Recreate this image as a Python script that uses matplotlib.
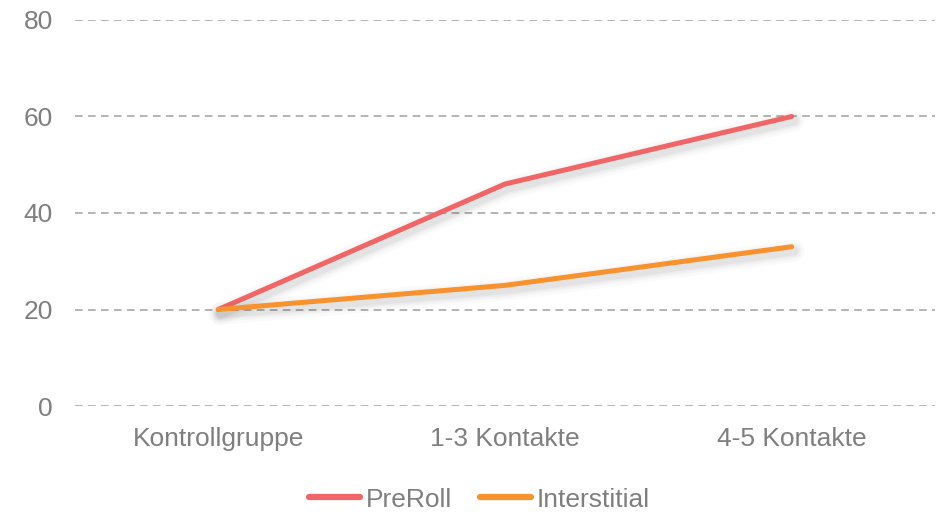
import matplotlib.pyplot as plt
import matplotlib.patheffects as pe

plt.rcParams['font.family'] = ['Liberation Sans', 'DejaVu Sans']

kategorien = ['Kontrollgruppe', '1-3 Kontakte', '4-5 Kontakte']
preroll = [20, 46, 60]
interstitial = [20, 25, 33]
farben = {'PreRoll': '#F06566', 'Interstitial': '#F7922F'}

fig = plt.figure(figsize=(9.43, 5.12), dpi=100)
ax = fig.add_axes([0.0795, 0.207, 0.912, 0.754])

# weicher schatten unter den linien
schatten = [pe.SimpleLineShadow(offset=(1.5, -3), shadow_color='#000000', alpha=a, linewidth=w)
            for a, w in [(0.02, 16), (0.025, 12), (0.03, 9), (0.035, 6.5)]] + [pe.Normal()]

x = range(len(kategorien))
ax.plot(x, preroll, color=farben['PreRoll'], lw=3.6, solid_capstyle='round',
        label='PreRoll', path_effects=schatten, zorder=3)
ax.plot(x, interstitial, color=farben['Interstitial'], lw=3.6, solid_capstyle='round',
        label='Interstitial', path_effects=schatten, zorder=3)

ax.set_xlim(-0.5, 2.5)
ax.set_ylim(0, 80)
ax.set_yticks([0, 20, 40, 60, 80])
ax.set_xticks(list(x))
ax.set_xticklabels(kategorien)
ax.yaxis.grid(True, color='#A0A0A0', linestyle=(0, (5, 3.5)), linewidth=1.1)
ax.set_axisbelow(True)
for s in ax.spines.values():
    s.set_visible(False)
ax.tick_params(length=0, labelsize=19, colors='#7F7F7F')
ax.tick_params(axis='x', pad=15)
ax.tick_params(axis='y', pad=16)

leg = ax.legend(loc='upper center', bbox_to_anchor=(0.47, -0.15), ncol=2, frameon=False,
                fontsize=19, handlelength=1.95, handletextpad=0.2, columnspacing=1.05,
                labelcolor='#7F7F7F')
for l in leg.get_lines():
    l.set_path_effects([pe.Normal()])
    l.set_linewidth(4.5)

fig.savefig('out.png', dpi=100, facecolor='white')
